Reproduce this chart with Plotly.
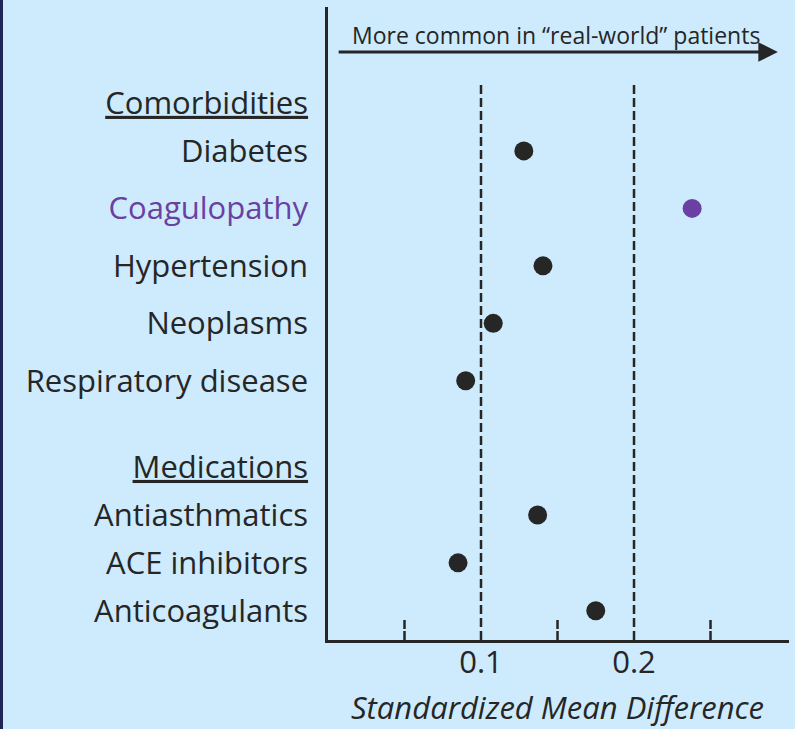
import plotly.graph_objects as go

# ---- data ----
labels = ["Comorbidities", "Diabetes", "Coagulopathy", "Hypertension", "Neoplasms",
          "Respiratory disease", "Medications", "Antiasthmatics", "ACE inhibitors", "Anticoagulants"]
is_header = [True, False, False, False, False, False, True, False, False, False]
row_pos = [0, 1, 2.2, 3.4, 4.6, 5.8, 7.6, 8.6, 9.6, 10.6]
smd = [None, 0.128, 0.238, 0.1405, 0.108, 0.090, None, 0.137, 0.085, 0.175]
highlight = "Coagulopathy"
major_ticks = [0.1, 0.2]
minor_ticks = [0.05, 0.15, 0.25]
tick_labels = ["0.1", "0.2"]

# ---- style ----
BG = "#cdebfc"
INK = "#262626"
PURPLE = "#6a40a3"
FONT = "Open Sans"

W, H = 795, 729
ML, MR, MT, MB = 328, 6, 7, 89
XR = [0, 0.3013]
YR = [11.21, -2.004]

xs, ys, cols = [], [], []
for lab, y, v in zip(labels, row_pos, smd):
    if v is None:
        continue
    xs.append(v)
    ys.append(y)
    cols.append(PURPLE if lab == highlight else INK)

ticktext = []
for lab, h in zip(labels, is_header):
    if h:
        ticktext.append(f"<u>{lab}</u>")
    elif lab == highlight:
        ticktext.append(f"<span style='color:{PURPLE}'>{lab}</span>")
    else:
        ticktext.append(lab)

fig = go.Figure()
fig.add_trace(go.Scatter(x=xs, y=ys, mode="markers",
                         marker=dict(size=19, color=cols, line=dict(width=0)),
                         showlegend=False, hoverinfo="skip"))

shapes = []
for t in major_ticks:
    shapes.append(dict(type="line", xref="x", yref="y", x0=t, x1=t, y0=-0.376, y1=YR[0],
                       line=dict(color=INK, width=2.5, dash="9px,4px"), layer="below"))
for t in minor_ticks:
    shapes.append(dict(type="line", xref="x", yref="y", x0=t, x1=t, y0=10.79, y1=YR[0],
                       line=dict(color=INK, width=2.5, dash="9px,2px"), layer="below"))
# navy left border of the panel
pw = W - ML - MR
ph = H - MT - MB
shapes.append(dict(type="line", xref="paper", yref="paper",
                   x0=(1.5 - ML) / pw, x1=(1.5 - ML) / pw,
                   y0=(ph + MT) / ph, y1=-MB / ph,
                   line=dict(color="#1e2657", width=3)))

annotations = [
    dict(x=0.294, y=-1.065, ax=0.006, ay=-1.065, xref="x", yref="y", axref="x", ayref="y",
         text="", showarrow=True, arrowhead=2, arrowsize=1.3, arrowwidth=3, arrowcolor=INK),
    dict(x=0.149, y=-1.42, xref="x", yref="y", text="More common in \u201creal-world\u201d patients",
         showarrow=False, font=dict(family=FONT, size=23, color=INK), xanchor="center", yanchor="middle"),
    dict(x=0.497, y=(640 - 707) / ph, xref="paper", yref="paper", text="<i>Standardized Mean Difference</i>",
         showarrow=False, font=dict(family=FONT, size=31, color=INK), xanchor="center", yanchor="middle",
         borderpad=0),
]

fig.update_layout(
    width=W, height=H,
    margin=dict(l=ML, r=MR, t=MT, b=MB, pad=0),
    paper_bgcolor=BG, plot_bgcolor=BG,
    font=dict(family=FONT, color=INK),
    shapes=shapes, annotations=annotations,
    xaxis=dict(range=XR, showgrid=False, zeroline=False, showline=True, linecolor=INK, linewidth=2.5,
               tickvals=major_ticks, ticktext=tick_labels, ticks="", ticklabelstandoff=-7,
               tickfont=dict(family=FONT, size=31, color=INK)),
    yaxis=dict(range=YR, showgrid=False, zeroline=False, showline=True, linecolor=INK, linewidth=2.5,
               tickvals=row_pos, ticktext=ticktext, ticks="", ticklabelstandoff=11,
               tickfont=dict(family=FONT, size=31, color=INK)),
)

fig.write_html("out.html", config={"displayModeBar": False},
               post_script="document.body.style.margin='0';document.body.style.background='" + BG + "';")
